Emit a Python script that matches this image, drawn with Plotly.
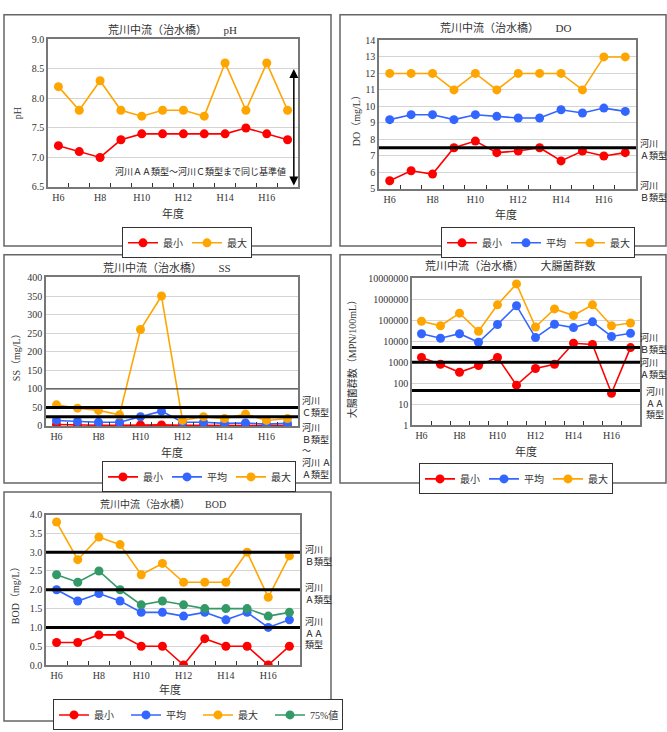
import plotly.graph_objects as go

W, H = 667, 732
SERIF = "Liberation Serif, Noto Sans CJK JP"
SANS = "Noto Sans CJK JP"

years = ["H6", "H7", "H8", "H9", "H10", "H11", "H12", "H13", "H14", "H15", "H16", "H17"]
year_ticktext = ["H6", "", "H8", "", "H10", "", "H12", "", "H14", "", "H16", ""]

# pH
ph_min = [7.2, 7.1, 7.0, 7.3, 7.4, 7.4, 7.4, 7.4, 7.4, 7.5, 7.4, 7.3]
ph_max = [8.2, 7.8, 8.3, 7.8, 7.7, 7.8, 7.8, 7.7, 8.6, 7.8, 8.6, 7.8]
ph_std = [8.5, 6.5]

# DO
do_min = [5.5, 6.1, 5.9, 7.5, 7.9, 7.2, 7.3, 7.5, 6.7, 7.3, 7.0, 7.2]
do_avg = [9.2, 9.5, 9.5, 9.2, 9.5, 9.4, 9.3, 9.3, 9.8, 9.6, 9.9, 9.7]
do_max = [12, 12, 12, 11, 12, 11, 12, 12, 12, 11, 13, 13]
do_std = [7.5]

# SS
ss_min = [4, 2, 2, 2, 3, 3, 2, 2, 2, 2, 1, 1]
ss_avg = [15, 12, 10, 10, 25, 40, 10, 10, 7, 8, 5, 7]
ss_max = [57, 48, 42, 30, 260, 350, 15, 25, 20, 32, 15, 20]
ss_std = [50, 25]

# Coliforms
col_min = [1700, 800, 330, 700, 1700, 80, 500, 800, 8000, 7000, 33, 5000]
col_avg = [23000, 14000, 23000, 9000, 63000, 500000, 15000, 65000, 45000, 85000, 17000, 24000]
col_max = [90000, 55000, 220000, 30000, 550000, 5500000, 48000, 350000, 170000, 550000, 55000, 75000]
col_std = [5000, 1000, 45]
col_tickvals = [1, 10, 100, 1000, 10000, 100000, 1000000, 10000000]
col_ticktext = ["1", "10", "100", "1000", "10000", "100000", "1000000", "10000000"]

# BOD
bod_min = [0.6, 0.6, 0.8, 0.8, 0.5, 0.5, 0.0, 0.7, 0.5, 0.5, 0.0, 0.5]
bod_avg = [2.0, 1.7, 1.9, 1.7, 1.4, 1.4, 1.3, 1.4, 1.2, 1.4, 1.0, 1.2]
bod_max = [3.8, 2.8, 3.4, 3.2, 2.4, 2.7, 2.2, 2.2, 2.2, 3.0, 1.8, 2.9]
bod_p75 = [2.4, 2.2, 2.5, 2.0, 1.6, 1.7, 1.6, 1.5, 1.5, 1.5, 1.3, 1.4]
bod_std = [3.0, 2.0, 1.0]

RED, BLUE, ORANGE, GREEN = "#FF0000", "#3366FF", "#FFA500", "#339966"


def px_x(v):
    return v / W


def px_y(v):
    return 1 - v / H


fig = go.Figure()

panels = [
    dict(plot=(48, 298, 34, 184), frame=(4, 331, 9, 244)),
    dict(plot=(379, 636, 35, 186), frame=(340, 666, 9, 244)),
    dict(plot=(46, 298, 276, 427), frame=(4, 331, 253, 485)),
    dict(plot=(412, 640, 277, 426), frame=(340, 666, 253, 485)),
    dict(plot=(46, 300, 517, 670), frame=(4, 331, 494, 727)),
]


def add_series(i, name, ys, color):
    fig.add_trace(go.Scatter(
        x=years, y=ys, name=name, mode="lines+markers",
        line=dict(color=color, width=1.6),
        marker=dict(color=color, size=9),
        xaxis=f"x{i}", yaxis=f"y{i}", legend=("legend" if i == 1 else f"legend{i}"),
    ))


add_series(1, "最小", ph_min, RED)
add_series(1, "最大", ph_max, ORANGE)
add_series(2, "最小", do_min, RED)
add_series(2, "平均", do_avg, BLUE)
add_series(2, "最大", do_max, ORANGE)
add_series(3, "最小", ss_min, RED)
add_series(3, "平均", ss_avg, BLUE)
add_series(3, "最大", ss_max, ORANGE)
add_series(4, "最小", col_min, RED)
add_series(4, "平均", col_avg, BLUE)
add_series(4, "最大", col_max, ORANGE)
add_series(5, "最小", bod_min, RED)
add_series(5, "平均", bod_avg, BLUE)
add_series(5, "最大", bod_max, ORANGE)
add_series(5, "75%値", bod_p75, GREEN)

yconf = {
    1: dict(range=[6.5, 9.0], dtick=0.5, tickformat=".1f"),
    2: dict(range=[5, 14], dtick=1),
    3: dict(range=[0, 400], dtick=50),
    4: dict(type="log", range=[0, 7], tickvals=col_tickvals, ticktext=col_ticktext),
    5: dict(range=[0, 4.0], dtick=0.5, tickformat=".1f"),
}

layout = dict(
    width=W, height=H, margin=dict(l=0, r=0, t=0, b=0),
    paper_bgcolor="white", plot_bgcolor="white",
    font=dict(family=SERIF, size=10, color="#333333"),
    shapes=[], annotations=[],
)

legend_pos = {1: (187, 225), 2: (538, 225), 3: (199, 463), 4: (516, 465), 5: (198, 705)}
legend_entry = {1: 19, 2: 19, 3: 19, 4: 19, 5: 27}

for i, p in enumerate(panels, start=1):
    l, r, t, b = p["plot"]
    sfx = "" if i == 1 else str(i)
    layout[f"xaxis{sfx}"] = dict(
        domain=[px_x(l), px_x(r)], anchor=f"y{i}",
        type="category", categoryorder="array", categoryarray=years,
        range=[-0.5, 11.5], tickvals=years, ticktext=year_ticktext,
        tickson="boundaries", ticks="inside", ticklen=4, tickcolor="#333333",
        tickangle=0,
        showgrid=False, showline=True, mirror=True, linecolor="#777777", linewidth=1.5,
        tickfont=dict(family=SERIF, size=10, color="#333333"), fixedrange=True,
    )
    ya = dict(
        domain=[px_y(b), px_y(t)], anchor=f"x{i}",
        showgrid=True, gridcolor="#D4D4D4", gridwidth=1,
        showline=True, mirror=True, linecolor="#777777", linewidth=1.5,
        ticks="", zeroline=False,
        tickfont=dict(family=SERIF, size=10, color="#333333"), fixedrange=True,
    )
    ya.update(yconf[i])
    layout[f"yaxis{sfx}"] = ya
    fl, fr, ft, fb = p["frame"]
    layout["shapes"].append(dict(
        type="rect", xref="paper", yref="paper",
        x0=px_x(fl), x1=px_x(fr), y0=px_y(fb), y1=px_y(ft),
        line=dict(color="#666666", width=1.5), layer="below",
    ))
    lx, ly = legend_pos[i]
    layout["legend" if i == 1 else f"legend{i}"] = dict(
        orientation="h", x=px_x(lx), y=px_y(ly), xanchor="center", yanchor="top",
        bordercolor="#333333", borderwidth=1, bgcolor="white",
        font=dict(family=SERIF, size=10, color="#333333"),
        itemwidth=30, tracegroupgap=0, entrywidth=legend_entry[i], entrywidthmode="pixels",
    )

fig.update_layout(**layout)


def hline(i, yv, width=3, color="black"):
    fig.add_shape(type="line", xref=f"x{i} domain", yref=f"y{i}",
                  x0=0, x1=1, y0=yv, y1=yv, line=dict(color=color, width=width))


for v in do_std:
    hline(2, v)
hline(3, 100, width=1.2, color="#444444")
for v in ss_std:
    hline(3, v)
for v in col_std:
    hline(4, v)
for v in bod_std:
    hline(5, v)


def ann(x, y, text, size=10, family=SERIF, color="#333333", angle=0):
    fig.add_annotation(xref="paper", yref="paper", x=px_x(x), y=px_y(y), text=text,
                       showarrow=False, textangle=angle, xanchor="center", yanchor="middle",
                       font=dict(family=family, size=size, color=color))


title = "荒川中流（治水橋）　"
ann(172, 24, title + "　pH", size=11)
ann(505, 22, title + "　DO", size=11)
ann(167, 266, title + "　SS", size=11)
ann(510, 264, title + "　大腸菌群数", size=11)
ann(163, 506, title + "　BOD", size=10)

ann(173, 211, "年度", size=11)
ann(506, 212, "年度", size=11)
ann(172, 454, "年度", size=11)
ann(526, 453, "年度", size=11)
ann(170, 695, "年度", size=11)

ann(17, 109, "pH", angle=-90)
ann(356, 114, "DO（mg/L）", angle=-90)
ann(16, 355, "SS（mg/L）", angle=-90)
ann(352, 357, "大腸菌群数（MPN/100mL）", angle=-90)
ann(15, 597, "BOD（mg/L）", angle=-90)

# pH panel: standard range arrow and note
fig.add_annotation(xref="x", yref="y", x=11.3, y=ph_std[0], ax=11.3, ay=ph_std[1],
                   axref="x", ayref="y", text="", showarrow=True,
                   arrowhead=2, startarrowhead=2, arrowside="end+start",
                   arrowsize=1.2, startarrowsize=1.2, arrowwidth=1.5, arrowcolor="black")
fig.add_annotation(xref="paper", yref="paper", x=px_x(200), y=px_y(168),
                   xanchor="center", yanchor="middle",
                   text="河川ＡＡ類型～河川Ｃ類型まで同じ基準値", showarrow=False,
                   font=dict(family=SANS, size=9, color="#222222"))


def side(x, y, text):
    fig.add_annotation(xref="paper", yref="paper", x=px_x(x), y=px_y(y), text=text,
                       showarrow=False, xanchor="left", yanchor="top", align="left",
                       font=dict(family=SANS, size=9, color="#222222"))


side(638, 131, "河川<br>Ａ類型")
side(638, 174, "河川<br>Ｂ類型")
side(300, 392, "河川<br>Ｃ類型")
side(300, 420, "河川<br>Ｂ類型<br>～<br>河川 Ａ<br>Ａ類型")
side(638, 328, "河川<br>Ｂ類型")
side(638, 354, "河川<br>Ａ類型")
side(644, 383, "河川<br>ＡＡ<br>類型")
side(303, 544, "河川<br>Ｂ類型")
side(303, 583, "河川<br>Ａ類型")
side(303, 617, "河川<br>ＡＡ<br>類型")

fig.write_html("out.html")
